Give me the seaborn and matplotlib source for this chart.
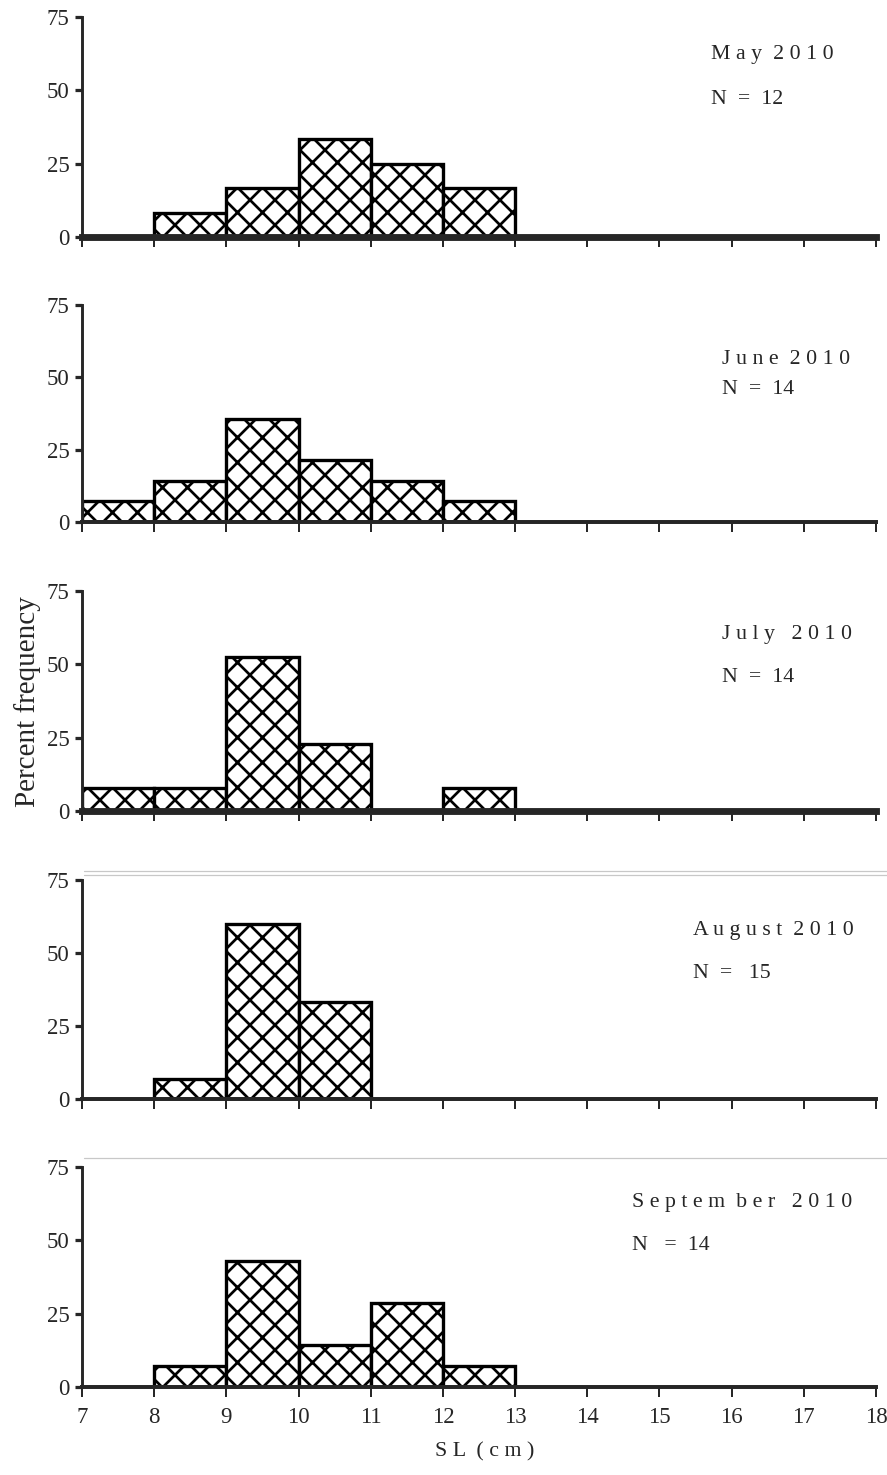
import matplotlib
matplotlib.use("Agg")
import matplotlib.pyplot as plt
from matplotlib.lines import Line2D
import pandas as pd
import seaborn as sns

# Size classes (cm, standard length) and monthly percent frequencies
bin_edges = [7, 8, 9, 10, 11, 12, 13, 14, 15, 16, 17, 18]
class_starts = [7, 8, 9, 10, 11, 12]
x_tick_labels = ["7", "8", "9", "10", "11", "12", "13", "14", "15", "16", "17", "18"]
y_ticks = [0, 25, 50, 75]

month_labels = ["M a y  2 0 1 0", "J u n e  2 0 1 0", "J u l y   2 0 1 0",
                "A u g u s t  2 0 1 0", "S e p t e m  b e r   2 0 1 0"]
n_labels = ["N  =  12", "N  =  14", "N  =  14", "N  =   15", "N   =  14"]

may_pct = [0.0, 8.3, 16.7, 33.3, 25.0, 16.7]
june_pct = [7.1, 14.3, 35.7, 21.4, 14.3, 7.1]
july_pct = [8.0, 8.0, 52.5, 23.0, 0.0, 8.0]
august_pct = [0.0, 6.7, 60.0, 33.3, 0.0, 0.0]
september_pct = [0.0, 7.1, 42.9, 14.3, 28.6, 7.1]
monthly_pct = [may_pct, june_pct, july_pct, august_pct, september_pct]

W, H, DPI = 887, 1475, 150
sns.set_style("ticks")
plt.rcParams["font.family"] = ["Liberation Serif", "DejaVu Serif"]
plt.rcParams["hatch.linewidth"] = 1.3
plt.rcParams["hatch.color"] = "black"

fig = plt.figure(figsize=(W / DPI, H / DPI), dpi=DPI)

# panel frames in pixels: (top, bottom), x from 82 to 876
panel_px = [(17, 237), (305, 522), (591, 811), (880, 1099), (1167, 1387)]
heavy_base = [True, False, True, False, False]
text_px = [(711, 55, 100), (722, 360, 389), (722, 634, 677),
           (693, 930, 974), (632, 1203, 1245)]
x0, x1 = 82, 876

for i, (top, bot) in enumerate(panel_px):
    ax = fig.add_axes([x0 / W, 1 - bot / H, (x1 - x0) / W, (bot - top) / H])
    df = pd.DataFrame({"sl": [s + 0.5 for s in class_starts], "pct": monthly_pct[i]})
    sns.histplot(data=df, x="sl", weights="pct", bins=bin_edges, ax=ax,
                 color="white", edgecolor="black", linewidth=1.6, alpha=1)
    for p in ax.patches:
        if p.get_height() <= 0:
            p.set_visible(False)
        else:
            p.set_hatch("xx")
    ax.set_xlim(7, 18)
    ax.set_ylim(0, 75)
    ax.set_xlabel("")
    ax.set_ylabel("")
    for side in ("top", "right"):
        ax.spines[side].set_visible(False)
    ax.spines["left"].set_linewidth(1.4)
    ax.spines["bottom"].set_linewidth(3.3 if heavy_base[i] else 1.9)
    ax.spines["bottom"].set_zorder(5)
    ax.set_yticks(y_ticks)
    ax.set_yticklabels([str(v) for v in y_ticks], fontsize=11)
    ax.set_xticks(bin_edges)
    if i == len(panel_px) - 1:
        ax.set_xticklabels(x_tick_labels, fontsize=11)
    else:
        ax.set_xticklabels([])
    ax.tick_params(axis="y", direction="out", length=3.5, width=1.55, pad=2.6)
    ax.tick_params(axis="x", direction="out", length=4.75, width=0.95, pad=5)
    ax.patch.set_alpha(0)

    tx, ty1, ty2 = text_px[i]
    fig.text(tx / W, 1 - ty1 / H, month_labels[i], fontsize=10.5, va="center", ha="left")
    fig.text(tx / W, 1 - ty2 / H, n_labels[i], fontsize=10.5, va="center", ha="left")

# faint rules above the last two panels
for yy in (871, 875, 1158):
    fig.add_artist(Line2D([84 / W, 1.0], [1 - yy / H, 1 - yy / H],
                          color="#c8c8c8", lw=0.6, transform=fig.transFigure))

fig.text(485 / W, 1 - 1452 / H, "S L  ( c m )", fontsize=10.5, ha="center", va="center")
fig.text(28 / W, 1 - 702 / H, "Percent frequency", fontsize=14, rotation=90,
         ha="center", va="center")

fig.savefig("out.png", dpi=DPI)
